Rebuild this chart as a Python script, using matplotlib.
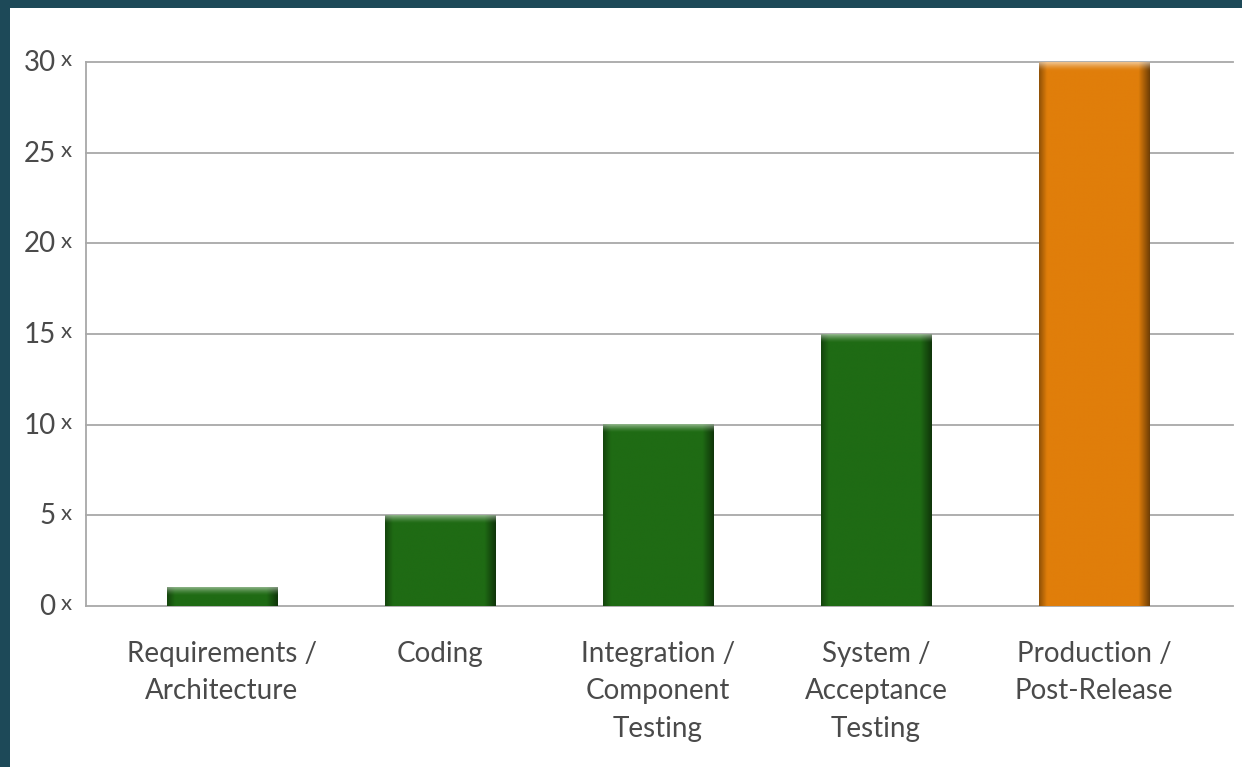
import numpy as np
import matplotlib
matplotlib.use("Agg")
import matplotlib.pyplot as plt
from matplotlib.colors import to_rgb

categories = ["Requirements /\nArchitecture", "Coding", "Integration /\nComponent\nTesting",
              "System /\nAcceptance\nTesting", "Production /\nPost-Release"]
values = [1, 5, 10, 15, 30]
bar_colors = ["#1f6b14", "#1f6b14", "#1f6b14", "#1f6b14", "#e07e0a"]
yticks = [0, 5, 10, 15, 20, 25, 30]

W, H = 1242, 767
fig = plt.figure(figsize=(W / 100, H / 100), dpi=100)
fig.patch.set_facecolor("#1d4958")
# white panel
bg = fig.add_axes([10 / W, 0, 1 - 10 / W, 1 - 8 / H], zorder=-5)
bg.set_facecolor("white")
bg.set_xticks([]); bg.set_yticks([])
for s in bg.spines.values():
    s.set_visible(False)

ax = fig.add_axes([86 / W, 1 - 606 / H, (1233 - 86) / W, (606 - 62) / H], zorder=1)
ax.set_facecolor("none")
x = np.arange(len(categories))

for s in ["top", "right", "bottom"]:
    ax.spines[s].set_visible(False)
ax.spines["left"].set_color("#a8a8a8")
ax.spines["left"].set_linewidth(1.3)

for t in yticks:
    ax.axhline(t, color="#a8a8a8", lw=1.3, zorder=1, clip_on=False)

width = 0.505
bars = ax.bar(x, values, width=width, color=bar_colors, zorder=2, clip_on=False)

# shading for bars
for b, c in zip(bars, bar_colors):
    x0, w = b.get_x(), b.get_width()
    h = b.get_height()
    base = np.array(to_rgb(c))
    ny, nx = 300, 120
    xs = np.linspace(0, 1, nx)
    ys = np.linspace(h, 0, ny)  # top to bottom in data
    dl = np.maximum(0, 0.07 - xs) / 0.07
    dr = np.maximum(0, xs - 0.90) / 0.10
    edge = 1 - 0.35 * dl - 0.5 * dr
    dist_top = (h - ys)
    hl = np.clip(1 - dist_top / 0.45, 0, 1) ** 1.5 * 0.5
    img = np.zeros((ny, nx, 3))
    for k in range(3):
        col = base[k] * edge[None, :]
        col = col + (1 - col) * hl[:, None]
        img[:, :, k] = col
    b.set_facecolor("none")
    ax.imshow(img, extent=(x0, x0 + w, 0, h), aspect="auto", zorder=2,
              interpolation="bilinear", clip_on=False)
ax.set_xlim(-0.624, 4.638)
ax.set_ylim(0, 30)

ax.set_yticks(yticks)
ax.set_yticklabels([])
ax.tick_params(axis="y", length=0)
for t in yticks:
    ax.text(-0.763, t - 0.05, str(t), ha="right", va="center", fontsize=20, color="#4a4a4a",
            family="Lato")
    ax.text(-0.738, t + 0.1, "x", ha="left", va="center", fontsize=16, color="#4a4a4a",
            family="Lato")

ax.set_xticks(x)
ax.set_xticklabels(categories, fontsize=20, color="#4a4a4a", family="Lato",
                   linespacing=1.55, va="top")
ax.tick_params(axis="x", length=0, pad=25)

fig.savefig("out.png", dpi=100, facecolor=fig.get_facecolor())
